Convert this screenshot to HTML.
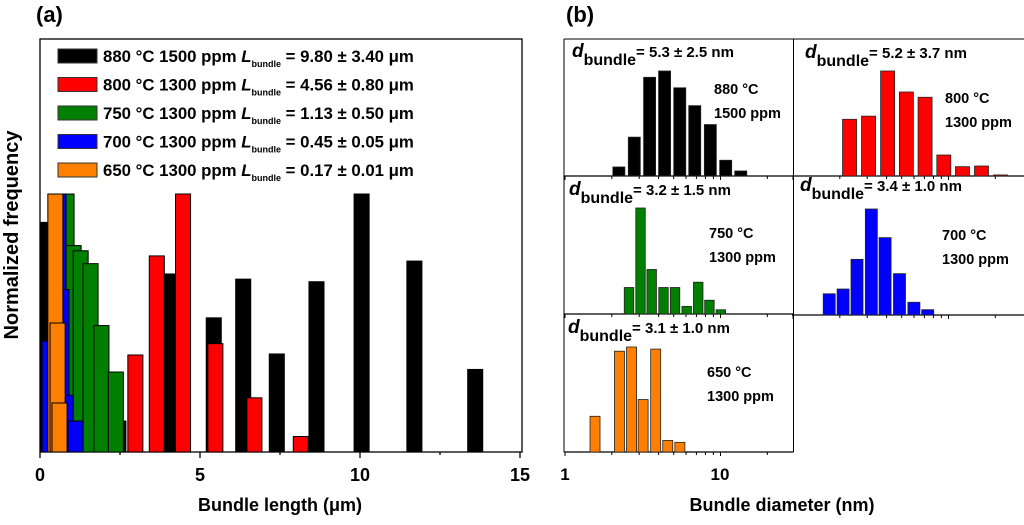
<!DOCTYPE html>
<html><head><meta charset="utf-8"><style>
html,body{margin:0;padding:0;background:#fff;}
svg{display:block;font-family:"Liberation Sans",Arial,sans-serif;font-weight:bold;}
</style></head><body>
<svg id="fig" width="1024" height="525" viewBox="0 0 1024 525" xmlns="http://www.w3.org/2000/svg">
<text x="36" y="22" font-size="22">(a)</text>
<text x="566" y="22" font-size="22">(b)</text>
<g id="pa">
<defs><clipPath id="clipA"><rect x="40" y="39" width="482" height="413"/></clipPath></defs>
<rect x="40" y="39" width="482" height="413" fill="none" stroke="#000" stroke-width="1.3"/>
<g id="barsA" clip-path="url(#clipA)"></g>
<g id="axA"></g>
<text transform="translate(18,235) rotate(-90)" text-anchor="middle" font-size="20">Normalized frequency</text>
<text x="280" y="511" text-anchor="middle" font-size="18">Bundle length (μm)</text>
<g id="legend"></g>
</g>
<g id="pb">
<line x1="564" y1="39" x2="1024" y2="39" stroke="#000" stroke-width="1"/>
<line x1="564" y1="39" x2="564" y2="452" stroke="#000" stroke-width="1"/>
<line x1="793.5" y1="39" x2="793.5" y2="452" stroke="#000" stroke-width="1"/>
<g id="barsB"></g>
<text x="565" y="480" text-anchor="middle" font-size="17">1</text>
<text x="720" y="480" text-anchor="middle" font-size="17">10</text>
<text x="782" y="511" text-anchor="middle" font-size="18">Bundle diameter (nm)</text>
</g>
</svg>
<script>
// ---- Panel (a) data ----
const seriesNames = ["880 °C 1500 ppm","800 °C 1300 ppm","750 °C 1300 ppm","700 °C 1300 ppm","650 °C 1300 ppm"];
const seriesColors = ["#000000","#ff0000","#007f00","#0000ff","#ff8000"];
const lengthLabels = ["= 9.80 ± 3.40 μm","= 4.56 ± 0.80 μm","= 1.13 ± 0.50 μm","= 0.45 ± 0.05 μm","= 0.17 ± 0.01 μm"];
const blackX = [0.0,0.06,0.12,0.3,2.45,4.05,5.43,6.35,7.4,8.64,10.05,11.7,13.6];
const blackY = [0.24,0.59,0.89,0.09,0.12,0.69,0.52,0.67,0.38,0.66,1.0,0.74,0.32];
const redX = [2.98,3.65,4.47,5.48,6.7,8.15];
const redY = [0.376,0.76,1.0,0.42,0.21,0.06];
const greenX = [0.83,1.05,1.27,1.58,1.92,2.37];
const greenY = [1.0,0.80,0.78,0.73,0.49,0.31];
const blueX = [0.3,0.58,0.67,0.8,1.11];
const blueY = [0.43,1.0,0.63,0.22,0.12];
const orangeX = [0.48,0.55,0.61];
const orangeY = [1.0,0.5,0.19];
const xTicksA = [0,5,10,15];

// ---- Panel (b) data ----
const dBlackX = [2.22,2.79,3.50,4.37,5.47,6.83,8.6,10.8,13.5];
const dBlackY = [0.086,0.37,0.94,1.0,0.84,0.67,0.49,0.15,0.048];
const dRedX = [2.31,3.06,4.06,5.36,7.07,9.33,12.3,16.3,21.6];
const dRedY = [0.54,0.57,1.0,0.80,0.75,0.20,0.089,0.095,0.01];
const dGreenX = [2.58,3.06,3.61,4.30,5.10,6.06,7.19,8.49,10.05];
const dGreenY = [0.25,1.0,0.42,0.25,0.25,0.072,0.30,0.13,0.04];
const dBlueX = [1.71,2.10,2.58,3.19,3.91,4.84,5.99,7.35];
const dBlueY = [0.20,0.245,0.525,1.0,0.73,0.39,0.12,0.05];
const dOrangeX = [1.56,2.24,2.68,3.18,3.83,4.58,5.48];
const dOrangeY = [0.34,0.96,1.0,0.50,0.98,0.11,0.092];
const dMean = ["5.3","5.2","3.2","3.4","3.1"];
const dStd = ["2.5","3.7","1.5","1.0","1.0"];
const temps = ["880 °C","800 °C","750 °C","700 °C","650 °C"];
const concs = ["1500 ppm","1300 ppm","1300 ppm","1300 ppm","1300 ppm"];

const NS="http://www.w3.org/2000/svg";
function mk(tag,attrs,parent){const e=document.createElementNS(NS,tag);for(const k in attrs)e.setAttribute(k,attrs[k]);parent.appendChild(e);return e;}

const xA = v => 40 + v*32;
const yA = v => 452 - v*258;
const barW = 0.47;
const gA=document.getElementById('barsA');
const groups=[[blackX,blackY],[redX,redY],[greenX,greenY],[blueX,blueY],[orangeX,orangeY]];
groups.forEach((g,si)=>{
  g[0].forEach((x,i)=>{
    const r=mk('rect',{x:xA(x-barW/2),y:yA(g[1][i]),width:xA(barW)-xA(0),height:yA(0)-yA(g[1][i]),fill:seriesColors[si],stroke:'#000','stroke-width':1},gA);
    
    
  });
});
const axA=document.getElementById('axA');
for(let v=0;v<=15;v+=2.5){
  const major = v%5===0;
  const t=mk('line',{x1:xA(v),x2:xA(v),y1:452,y2:major?458:455,stroke:'#000','stroke-width':1.3},axA);
  
  
}
xTicksA.forEach(v=>{
  const t=mk('text',{x:xA(v),y:481,'text-anchor':'middle','font-size':18},axA);
  t.textContent=v;
  
  
});
const lg=document.getElementById('legend');
seriesNames.forEach((n,i)=>{
  const cy=56+i*28.5;
  const s=mk('rect',{x:58,y:cy-7,width:39,height:14,fill:seriesColors[i],stroke:'#333','stroke-width':1},lg);
  
  
  const t=mk('text',{x:103,y:cy+6,'font-size':16.8},lg);
  
  
  t.innerHTML=n+' <tspan font-style="italic">L</tspan><tspan font-size="9" dy="5">bundle</tspan><tspan dy="-5"> '+lengthLabels[i]+'</tspan>';
});

const panels=[
 {x0:565,base:176,h:105,bw:12,X:dBlackX,Y:dBlackY,c:seriesColors[0],dx:572,dy:57,tx:714,ty:94},
 {x0:793,base:176,h:105,bw:14,X:dRedX,Y:dRedY,c:seriesColors[1],dx:805,dy:58,tx:945,ty:103},
 {x0:565,base:314,h:106,bw:9.5,X:dGreenX,Y:dGreenY,c:seriesColors[2],dx:569,dy:195,tx:709,ty:238},
 {x0:793,base:315,h:106,bw:12,X:dBlueX,Y:dBlueY,c:seriesColors[3],dx:800,dy:191,tx:942,ty:240},
 {x0:565,base:452,h:105,bw:10,X:dOrangeX,Y:dOrangeY,c:seriesColors[4],dx:568,dy:333,tx:707,ty:377}
];
const gB=document.getElementById('barsB');
const dec=155.5;
panels.forEach((p,pi)=>{
  const xB=v=>p.x0+Math.log10(v)*dec;
  const right = p.x0===565?793.5:1024;
  const bl=mk('line',{x1:p.x0-1,x2:right,y1:p.base,y2:p.base,stroke:'#000','stroke-width':1.2},gB);
  
  
  [1,2,3,4,5,6,7,8,9,10,20].forEach(v=>{
    const x=xB(v); if(x>right) return;
    const tk=mk('line',{x1:x,x2:x,y1:p.base,y2:p.base+((v===1||v===10)?4:3),stroke:'#000','stroke-width':1},gB);
    
    
  });
  p.X.forEach((x,i)=>{
    const r=mk('rect',{x:xB(x)-p.bw/2,y:p.base-p.Y[i]*p.h,width:p.bw,height:p.Y[i]*p.h,fill:p.c,stroke:'#222','stroke-width':0.8},gB);
    
    
  });
  const t=mk('text',{x:p.dx,y:p.dy,'font-size':17},gB);
  
  
  t.innerHTML='<tspan font-style="italic" font-size="19">d</tspan><tspan dy="8" font-size="16">bundle</tspan><tspan dy="-8" font-size="15">= '+dMean[pi]+'  ± '+dStd[pi]+' nm</tspan>';
  const t1=mk('text',{x:p.tx,y:p.ty,'font-size':14.5},gB);
  t1.textContent=temps[pi];
  
  
  const t2=mk('text',{x:p.tx,y:p.ty+24,'font-size':14.5},gB);
  t2.textContent=concs[pi];
  
  
});
</script>
</body></html>
